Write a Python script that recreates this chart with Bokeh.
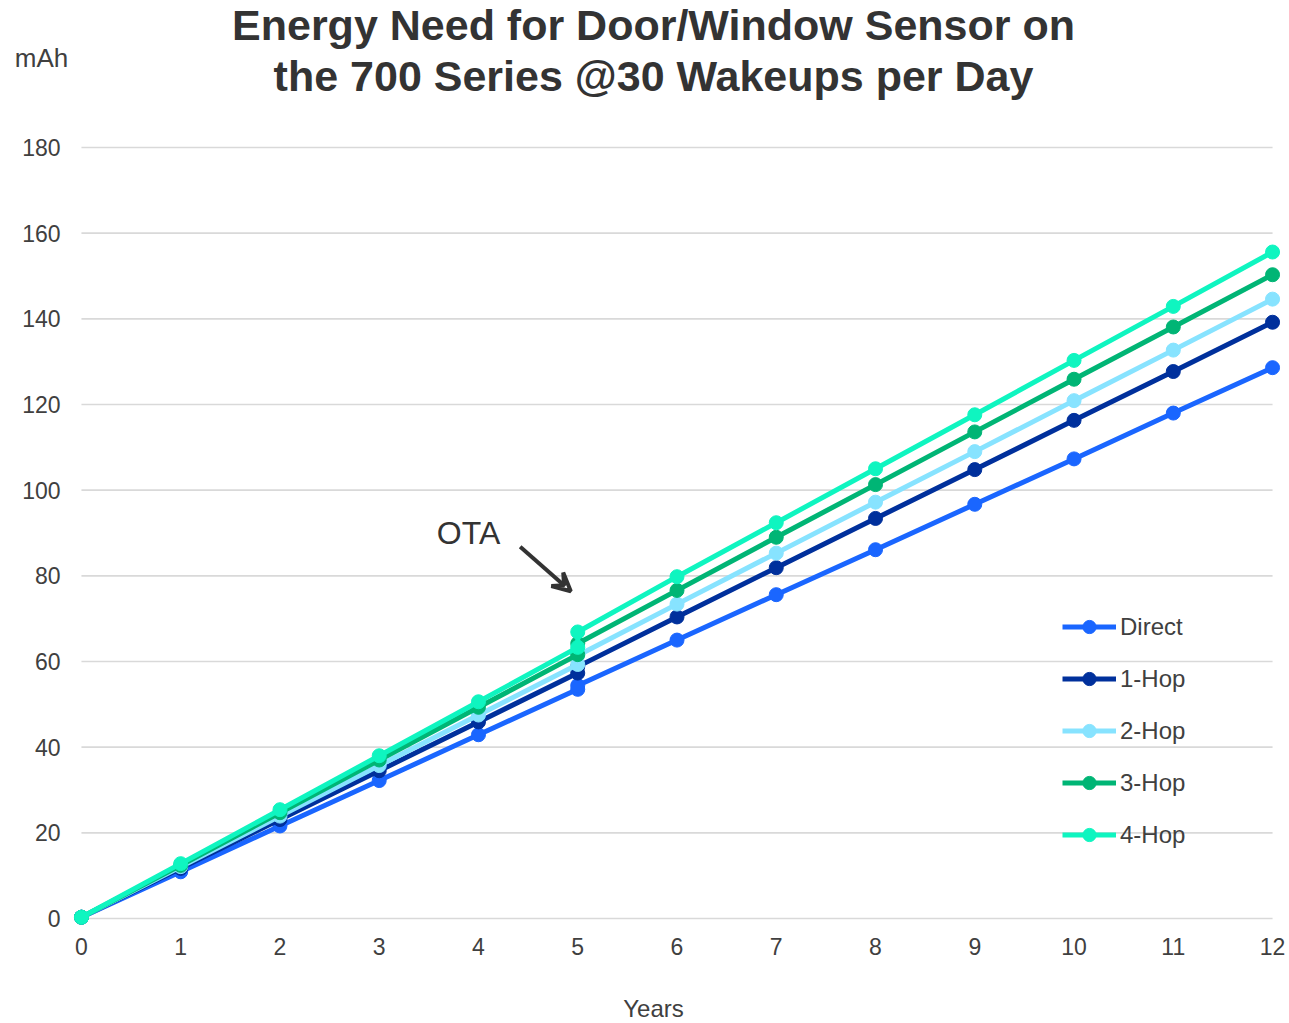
from bokeh.plotting import figure
from bokeh.models import Label, Arrow, VeeHead, Legend, LegendItem, FixedTicker
from bokeh.embed import file_html
from bokeh.resources import INLINE

years = [0, 1, 2, 3, 4, 5, 5, 6, 7, 8, 9, 10, 11, 12]
direct = [0.3, 10.9, 21.6, 32.2, 42.9, 53.5, 54.4, 65.0, 75.6, 86.1, 96.7, 107.3, 118.0, 128.6]
hop1 = [0.3, 11.7, 23.1, 34.5, 45.9, 57.3, 58.8, 70.4, 81.9, 93.4, 104.8, 116.3, 127.7, 139.2]
hop2 = [0.3, 12.1, 23.9, 35.7, 47.5, 59.3, 61.4, 73.4, 85.3, 97.2, 109.0, 120.9, 132.7, 144.6]
hop3 = [0.3, 12.4, 24.7, 37.0, 49.3, 61.6, 64.2, 76.6, 89.0, 101.3, 113.6, 125.9, 138.1, 150.3]
hop4 = [0.3, 12.8, 25.4, 38.0, 50.6, 63.3, 66.9, 79.8, 92.4, 105.0, 117.6, 130.3, 142.9, 155.6]

series_names = ["Direct", "1-Hop", "2-Hop", "3-Hop", "4-Hop"]
series_values = [direct, hop1, hop2, hop3, hop4]
series_colors = ["#1a66ff", "#00309c", "#87e3ff", "#00b575", "#0ff5c0"]

x_ticks = list(range(0, 13))
y_ticks = list(range(0, 181, 20))

title_lines = ["Energy Need for Door/Window Sensor on", "the 700 Series @30 Wakeups per Day"]

FONT = "Liberation Sans"
TXT = "#404040"
W = 1285
HEAD_H = 110
MAIN_H = 864
FOOT_H = 49


def blank(h):
    f = figure(width=W, height=h, output_backend="svg", toolbar_location=None,
               x_range=(0, W), y_range=(0, h), x_axis_location=None, y_axis_location=None,
               min_border=0, min_border_left=0, min_border_right=0, min_border_top=0, min_border_bottom=0)
    f.outline_line_color = None
    f.grid.visible = False
    return f


# ---- header (title and unit label) ----
head = blank(HEAD_H)
head.add_layout(Label(x=653, y=HEAD_H - 24, text=title_lines[0], text_align="center", text_baseline="middle",
                      text_font=FONT, text_font_style="bold", text_font_size="43px", text_color="#333333"))
head.add_layout(Label(x=653, y=HEAD_H - 75, text=title_lines[1], text_align="center", text_baseline="middle",
                      text_font=FONT, text_font_style="bold", text_font_size="43px", text_color="#333333"))
head.add_layout(Label(x=41, y=HEAD_H - 57, text="mAh", text_align="center", text_baseline="middle",
                      text_font=FONT, text_font_size="26px", text_color=TXT))

# ---- main chart ----
p = figure(width=W, height=MAIN_H, output_backend="svg", toolbar_location=None,
           x_range=(-0.08, 12.08), y_range=(-1.87, 181.87),
           min_border_left=73, min_border_right=5, min_border_top=29, min_border_bottom=48)
p.outline_line_color = None
p.xgrid.visible = False
p.ygrid.visible = False

# grid lines along y ticks spanning the x tick extent
p.segment(x0=[x_ticks[0]] * len(y_ticks), x1=[x_ticks[-1]] * len(y_ticks), y0=y_ticks, y1=y_ticks,
          line_color="#d9d9d9", line_width=1.6, level="underlay")

for ax in (p.xaxis[0], p.yaxis[0]):
    ax.axis_line_color = None
    ax.major_tick_line_color = None
    ax.minor_tick_line_color = None
    ax.major_label_text_font = FONT
    ax.major_label_text_font_size = "23px"
    ax.major_label_text_color = TXT
p.xaxis[0].ticker = FixedTicker(ticks=x_ticks)
p.yaxis[0].ticker = FixedTicker(ticks=y_ticks)
p.xaxis[0].major_label_standoff = 5
p.yaxis[0].major_label_standoff = 7

items = []
for name, vals, col in zip(series_names, series_values, series_colors):
    lr = p.line(years, vals, line_color=col, line_width=5)
    cr = p.scatter(years, vals, size=14, fill_color=col, line_color=col)
    items.append(LegendItem(label=name, renderers=[lr, cr]))

legend = Legend(items=items, location=(989, 75), orientation="vertical",
                border_line_color=None, background_fill_alpha=0,
                glyph_width=54, glyph_height=33, label_height=20, spacing=19,
                label_standoff=4, padding=0, margin=0,
                label_text_font=FONT, label_text_font_size="24px", label_text_color=TXT)
p.add_layout(legend)

# OTA annotation
p.add_layout(Label(x=3.90, y=89.9, text="OTA", text_align="center", text_baseline="middle",
                   text_font=FONT, text_font_size="32px", text_color="#333333"))
p.add_layout(Arrow(x_start=4.42, y_start=86.8, x_end=4.93, y_end=76.4,
                   line_color="#333333", line_width=4,
                   end=VeeHead(size=18, line_color="#333333", line_width=4, fill_alpha=0)))

# ---- footer (x axis title) ----
foot = blank(FOOT_H)
foot.add_layout(Label(x=653, y=FOOT_H - 34, text="Years", text_align="center", text_baseline="middle",
                      text_font=FONT, text_font_size="24px", text_color=TXT))

open("out.html", "w").write(file_html([head, p, foot], INLINE))
